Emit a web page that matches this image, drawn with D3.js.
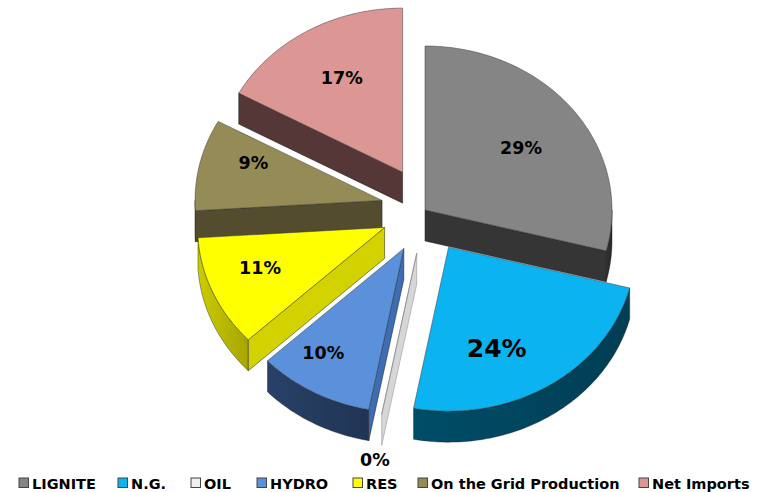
<!DOCTYPE html>
<html>
<head>
<meta charset="utf-8">
<script src="https://cdn.jsdelivr.net/npm/d3@7/dist/d3.min.js"></script>
<style>
  html, body { margin: 0; padding: 0; background: #fff; }
  svg { display: block; }
  text { font-family: "DejaVu Sans", Verdana, sans-serif; font-weight: bold; }
</style>
</head>
<body>
<svg id="chart" width="765" height="492"></svg>
<script>
// ---- data ----
const categories = ["LIGNITE", "N.G.", "OIL", "HYDRO", "RES", "On the Grid Production", "Net Imports"];
const shares = [29, 24, 0, 10, 11, 9, 17];
const valueLabels = ["29%", "24%", "0%", "10%", "11%", "9%", "17%"];

// ---- style / layout ----
const topColors  = ["#858585", "#0bb4f0", "#efefef", "#5a91da", "#ffff00", "#958b56", "#dc9795"];
const faceColors = ["#353535", "#00455e", "#d6d6d6", "#3d6db3", "#d2d200", "#534c2f", "#553738"];
const wallColors = ["#2c2c2c", "#00445c", "#cfcfcf", "#23395c", "#b4b400", "#4d462b", "#4a3031"];
const explode = [0, 44, 44, 44, 44, 44, 44];
const labelNudge = [[0, 3], [-17, 11], [-19, 102], [-22, 11], [-13, -2], [-10, -14], [1, -3]];
const labelSizes = [17.5, 25, 17.5, 17.5, 17.5, 17.5, 17.5];
const legendX = [19, 118, 191, 257, 353, 418, 639];

const cx = 425, cy = 210, rx = 187, ry = 164, depth = 31;

const svg = d3.select("#chart");

const pie = d3.pie().sort(null).value(d => d).startAngle(0).endAngle(2 * Math.PI);
const arcs = pie(shares);

// radius scale (fraction of radius -> pixels) for x and y of the tilted ellipse
const sx = d3.scaleLinear().domain([0, 1]).range([0, rx]);
const sy = d3.scaleLinear().domain([0, 1]).range([0, ry]);

function pt(a, r, ox, oy, dz) {
  return [ox + sx(r) * Math.sin(a), oy - sy(r) * Math.cos(a) + (dz || 0)];
}
function arcPts(a0, a1, ox, oy, dz) {
  const n = Math.max(2, Math.ceil(Math.abs(a1 - a0) / (Math.PI / 180)));
  const out = [];
  for (let k = 0; k <= n; k++) out.push(pt(a0 + (a1 - a0) * k / n, 1, ox, oy, dz));
  return out;
}
const line = d3.line();

const slices = arcs.map((a, i) => {
  const mid = (a.startAngle + a.endAngle) / 2;
  const e = explode[i];
  const ox = cx + e * Math.sin(mid);
  const oy = cy - e * Math.cos(mid);
  return { a, i, mid, ox, oy };
});

// back-to-front drawing order
const order = slices.slice().sort((p, q) => Math.cos(q.mid) - Math.cos(p.mid));

const g = svg.append("g");

// gradients for outer walls
const defs = svg.append("defs");
slices.forEach(s => {
  const gr = defs.append("linearGradient").attr("id", "wall" + s.i)
    .attr("x1", "0%").attr("x2", "100%").attr("y1", "0%").attr("y2", "0%");
  const c = d3.color(wallColors[s.i]);
  gr.append("stop").attr("offset", "0%").attr("stop-color", c.brighter(0.35));
  gr.append("stop").attr("offset", "100%").attr("stop-color", c.darker(0.25));
});

order.forEach(s => {
  const { a, i, ox, oy } = s;
  const sg = g.append("g");
  const s0 = a.startAngle, s1 = a.endAngle;
  const apex = [ox, oy];
  const apexB = [ox, oy + depth];

  // outer curved wall (front half)
  const w0 = Math.max(s0, Math.PI / 2), w1 = Math.min(s1, 3 * Math.PI / 2);
  if (w1 > w0) {
    const topA = arcPts(w0, w1, ox, oy, 0);
    const botA = arcPts(w1, w0, ox, oy, depth);
    sg.append("path").attr("d", line(topA.concat(botA)) + "Z")
      .attr("fill", `url(#wall${i})`).attr("stroke", "#1a1a1a").attr("stroke-width", 0.4);
  }
  // start radial face
  if (Math.sin(s0) < -1e-6) {
    const o = pt(s0, 1, ox, oy, 0), ob = pt(s0, 1, ox, oy, depth);
    sg.append("path").attr("d", line([apex, o, ob, apexB]) + "Z")
      .attr("fill", faceColors[i]).attr("stroke", i === 2 ? "#8a8a8a" : "#1a1a1a").attr("stroke-width", 0.5);
  }
  // end radial face
  if (Math.sin(s1) > 1e-6 && s1 > s0) {
    const o = pt(s1, 1, ox, oy, 0), ob = pt(s1, 1, ox, oy, depth);
    sg.append("path").attr("d", line([apex, o, ob, apexB]) + "Z")
      .attr("fill", faceColors[i]).attr("stroke", "#1a1a1a").attr("stroke-width", 0.5);
  }
  // top face
  if (s1 > s0) {
    const pts = [apex].concat(arcPts(s0, s1, ox, oy, 0));
    sg.append("path").attr("d", line(pts) + "Z")
      .attr("fill", topColors[i]).attr("stroke", "#3a3a3a").attr("stroke-width", 0.5);
  } else {
    const o = pt(s0, 1, ox, oy, 0);
    sg.append("path").attr("d", line([apex, o])).attr("stroke", "#8a8a8a").attr("stroke-width", 0.8);
  }
});

// value labels
slices.forEach(s => {
  const p = pt(s.mid, 0.65, s.ox, s.oy, 0);
  svg.append("text")
    .attr("x", p[0] + labelNudge[s.i][0])
    .attr("y", p[1] + labelNudge[s.i][1])
    .attr("dy", "0.36em")
    .attr("text-anchor", "middle")
    .attr("font-size", labelSizes[s.i])
    .attr("fill", "#000")
    .text(valueLabels[s.i]);
});

// legend
const lg = svg.append("g");
categories.forEach((c, i) => {
  lg.append("rect").attr("x", legendX[i]).attr("y", 478).attr("width", 9.5).attr("height", 9.5)
    .attr("fill", topColors[i]).attr("stroke", "#444").attr("stroke-width", 1);
  lg.append("text").attr("x", legendX[i] + 13).attr("y", 488.5)
    .attr("font-size", 14.5).attr("fill", "#000").text(c);
});
</script>
</body>
</html>
